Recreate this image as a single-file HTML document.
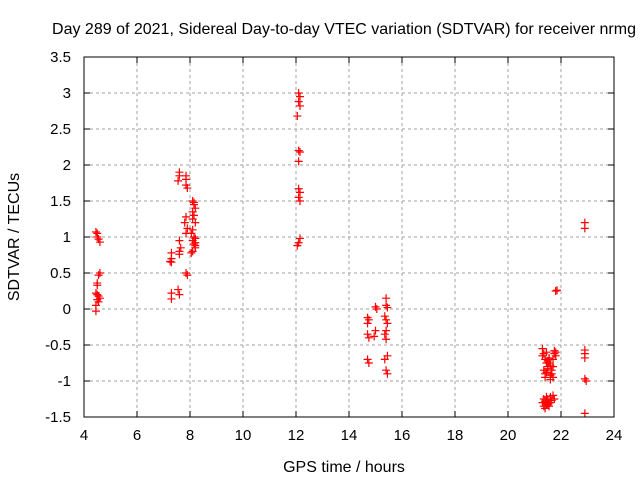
<!DOCTYPE html>
<html><head><meta charset="utf-8"><style>
body{margin:0;background:#fff;}
svg{display:block;font-family:"Liberation Sans",sans-serif;}
</style></head><body>
<svg id="chart" width="640" height="480">
<rect width="640" height="480" fill="#fff"/>
<text x="344" y="34" font-size="16" text-anchor="middle">Day 289 of 2021, Sidereal Day-to-day VTEC variation (SDTVAR) for receiver nrmg</text>
<text x="344" y="472" font-size="16" text-anchor="middle">GPS time / hours</text>
<text transform="translate(19,237) rotate(-90)" font-size="16" text-anchor="middle">SDTVAR / TECUs</text>
<g id="grid"></g><g id="axes"></g><g id="marks"></g>
<rect x="84" y="57" width="530" height="360" fill="none" stroke="#000" stroke-width="1"/>
</svg>
<script>
const xTicks=[4,6,8,10,12,14,16,18,20,22,24];
const yTicks=[3.5,3,2.5,2,1.5,1,0.5,0,-0.5,-1,-1.5];
const yTickLabels=["3.5","3","2.5","2","1.5","1","0.5","0","-0.5","-1","-1.5"];
const hours=[4.45,4.5,4.5,4.55,4.6,4.6,4.55,4.5,4.5,4.45,4.5,4.55,4.6,4.5,4.55,4.45,4.45,
7.3,7.3,7.25,7.3,7.3,7.3,7.6,7.6,7.55,7.6,7.65,7.6,7.6,7.55,7.6,
7.85,7.85,7.85,7.9,7.85,7.8,7.9,7.85,7.85,7.9,
8.1,8.15,8.2,8.1,8.15,8.2,8.1,8.05,8.15,8.2,8.1,8.15,8.2,8.1,8.05,8.2,8.15,8.1,8.2,
12.1,12.15,12.1,12.15,12.05,12.1,12.15,12.1,12.1,12.15,12.1,12.15,12.15,12.1,12.05,
14.7,14.75,14.7,14.7,14.75,14.7,14.75,15.0,15.05,15.0,14.95,
15.4,15.4,15.45,15.35,15.4,15.45,15.4,15.35,15.4,15.45,15.35,15.4,15.45,
21.3,21.35,21.4,21.45,21.5,21.35,21.4,21.5,21.55,21.45,21.6,21.3,21.4,21.5,21.55,21.6,21.45,21.65,21.7,21.75,21.7,21.8,21.75,21.7,21.65,21.6,21.55,21.8,
21.3,21.35,21.4,21.45,21.5,21.55,21.6,21.65,21.7,21.75,21.4,21.5,21.6,21.35,21.45,21.55,
21.8,21.85,
22.9,22.9,22.9,22.9,22.9,22.9,22.95,22.9];
const sdtvar=[1.07,1.05,1.0,0.97,0.93,0.5,0.47,0.36,0.33,0.22,0.2,0.18,0.15,0.13,0.1,0.05,-0.03,
0.78,0.7,0.66,0.65,0.22,0.14,1.9,1.85,1.78,0.95,0.85,0.8,0.76,0.27,0.2,
1.85,1.8,1.72,1.68,1.28,1.2,1.12,1.05,0.5,0.47,
1.5,1.45,1.4,1.35,1.3,1.2,1.1,1.05,1.0,0.98,0.95,0.9,0.85,0.8,0.78,0.88,1.48,1.25,0.92,
3.0,2.95,2.88,2.82,2.68,2.2,2.18,2.05,1.67,1.62,1.55,1.5,0.98,0.92,0.88,
-0.12,-0.15,-0.2,-0.35,-0.4,-0.7,-0.75,0.03,0.0,-0.3,-0.38,
0.15,0.05,0.02,-0.1,-0.15,-0.2,-0.3,-0.35,-0.42,-0.65,-0.7,-0.85,-0.9,
-0.55,-0.62,-0.7,-0.75,-0.8,-0.85,-0.9,-0.72,-0.68,-0.88,-0.78,-0.65,-0.95,-0.83,-0.75,-0.92,-0.6,-0.85,-0.7,-0.62,-0.95,-0.65,-0.58,-0.8,-0.9,-0.98,-0.7,-0.6,
-1.3,-1.35,-1.28,-1.32,-1.25,-1.3,-1.22,-1.27,-1.2,-1.25,-1.38,-1.33,-1.3,-1.25,-1.22,-1.35,
0.25,0.26,
1.2,1.12,-0.57,-0.62,-0.68,-0.97,-1.0,-1.45];
const NS="http://www.w3.org/2000/svg";
const X=v=>84+(v-4)*26.5, Y=v=>57+(3.5-v)*72;
function mk(t,a,p){const e=document.createElementNS(NS,t);for(const k in a)e.setAttribute(k,a[k]);p.appendChild(e);return e;}
const grid=document.getElementById('grid'),axes=document.getElementById('axes'),marks=document.getElementById('marks');
xTicks.forEach((t,i)=>{const x=X(t);
 if(i>0&&i<xTicks.length-1){const g=mk('line',{x1:x,x2:x,y1:57,y2:417,stroke:'#a0a0a0','stroke-dasharray':'3,3'},grid);
 
 }
 mk('line',{x1:x,x2:x,y1:417,y2:411,stroke:'#000'},axes);mk('line',{x1:x,x2:x,y1:57,y2:63,stroke:'#000'},axes);
 const l=mk('text',{x:x,y:440,'font-size':15,'text-anchor':'middle'},axes);l.textContent=t;
 
 });
yTicks.forEach((t,i)=>{const y=Y(t);
 if(i>0&&i<yTicks.length-1){const g=mk('line',{x1:84,x2:614,y1:y,y2:y,stroke:'#a0a0a0','stroke-dasharray':'3,3'},grid);
 
 }
 mk('line',{x1:84,x2:90,y1:y,y2:y,stroke:'#000'},axes);mk('line',{x1:614,x2:608,y1:y,y2:y,stroke:'#000'},axes);
 const l=mk('text',{x:71,y:y+5,'font-size':15,'text-anchor':'end'},axes);l.textContent=yTickLabels[i];
 
 });
hours.forEach((h,i)=>{const x=X(h),y=Y(sdtvar[i]);
 const p=mk('path',{d:`M${x-4},${y}H${x+4}M${x},${y-4}V${y+4}`,stroke:'#f00','stroke-width':1.2,fill:'none'},marks);
 
 });
</script>
</body></html>
